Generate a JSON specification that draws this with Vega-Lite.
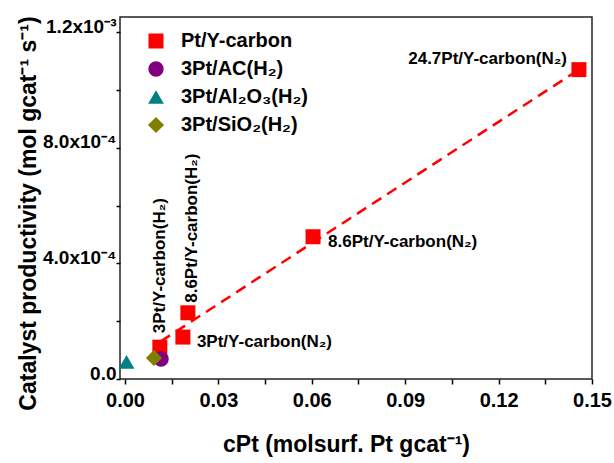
{
  "$schema": "https://vega.github.io/schema/vega-lite/v6.json",
  "width": 472,
  "height": 362,
  "autosize": {"type": "none"},
  "padding": {"left": 120, "top": 17, "right": 22, "bottom": 84},
  "background": "white",
  "config": {
    "font": "Liberation Sans",
    "view": {"stroke": "#222222", "strokeWidth": 1.5},
    "axis": {
      "grid": false,
      "domain": false,
      "tickColor": "#000000",
      "tickWidth": 1.5,
      "tickSize": 5,
      "labelColor": "#000000",
      "labelFont": "Liberation Sans",
      "labelFontWeight": "bold",
      "labelOverlap": false,
      "labelBound": false,
      "labelFlush": false,
      "titleColor": "#000000",
      "titleFont": "Liberation Sans",
      "titleFontWeight": "bold",
      "titleFontSize": 23
    },
    "legend": {
      "orient": "none",
      "legendX": 26,
      "legendY": 14,
      "padding": 0,
      "labelFont": "Liberation Sans",
      "labelFontSize": 20,
      "labelFontWeight": "bold",
      "labelColor": "#000000",
      "symbolSize": 300,
      "symbolStrokeWidth": 0,
      "rowPadding": 8,
      "labelOffset": 15
    }
  },
  "datasets": {
    "pts": [
      {"x": 0.0112, "y": 0.000110, "s": "Pt/Y-carbon", "label": "3Pt/Y-carbon(H₂)"},
      {"x": 0.0186, "y": 0.000145, "s": "Pt/Y-carbon", "label": "3Pt/Y-carbon(N₂)"},
      {"x": 0.0202, "y": 0.000229, "s": "Pt/Y-carbon", "label": "8.6Pt/Y-carbon(H₂)"},
      {"x": 0.0604, "y": 0.000492, "s": "Pt/Y-carbon", "label": "8.6Pt/Y-carbon(N₂)"},
      {"x": 0.1458, "y": 0.001070, "s": "Pt/Y-carbon", "label": "24.7Pt/Y-carbon(N₂)"},
      {"x": 0.0116, "y": 0.000069, "s": "3Pt/AC(H₂)", "label": ""},
      {"x": 0.0005, "y": 0.000059, "s": "3Pt/Al₂O₃(H₂)", "label": ""},
      {"x": 0.0093, "y": 0.000073, "s": "3Pt/SiO₂(H₂)", "label": ""}
    ],
    "fit": [
      {"x": 0.0115, "y": 0.000130},
      {"x": 0.1458, "y": 0.001070}
    ]
  },
  "encoding": {
    "x": {
      "field": "x",
      "type": "quantitative",
      "scale": {"domain": [-0.0016, 0.15], "nice": false, "zero": false},
      "axis": {
        "values": [0, 0.015, 0.03, 0.045, 0.06, 0.075, 0.09, 0.105, 0.12, 0.135, 0.15],
        "labelExpr": "round(datum.value*1000) % 30 == 0 ? format(datum.value, '.2f') : ''",
        "labelFontSize": 20,
        "labelPadding": 6,
        "title": "cPt (molsurf. Pt gcat⁻¹)",
        "titleX": 226,
        "titleY": 72,
        "titleBaseline": "alphabetic",
        "titleAlign": "center"
      }
    },
    "y": {
      "field": "y",
      "type": "quantitative",
      "scale": {"domain": [0, 0.001252], "nice": false, "zero": false},
      "axis": {
        "values": [0, 0.0002, 0.0004, 0.0006, 0.0008, 0.001, 0.0012],
        "labelExpr": "round(datum.value*100000) == 0 ? '0.0' : round(datum.value*100000) == 40 ? '4.0x10⁻⁴' : round(datum.value*100000) == 80 ? '8.0x10⁻⁴' : round(datum.value*100000) == 120 ? '1.2x10⁻³' : ''",
        "labelFontSize": 19,
        "labelBaseline": "alphabetic",
        "labelPadding": 0,
        "tickSize": 4,
        "title": "Catalyst productivity (mol gcat⁻¹ s⁻¹)",
        "titleX": -92,
        "titleY": 196,
        "titleAngle": 270,
        "titleAlign": "center",
        "titleBaseline": "middle"
      }
    }
  },
  "layer": [
    {
      "data": {"name": "fit"},
      "mark": {"type": "line", "color": "#ff0000", "strokeDash": [11, 7], "strokeWidth": 2.5}
    },
    {
      "data": {"name": "pts"},
      "mark": {"type": "point", "filled": true, "opacity": 1, "strokeWidth": 0},
      "encoding": {
        "color": {
          "field": "s",
          "type": "nominal",
          "scale": {
            "domain": ["Pt/Y-carbon", "3Pt/AC(H₂)", "3Pt/Al₂O₃(H₂)", "3Pt/SiO₂(H₂)"],
            "range": ["#ff0000", "#800080", "#008080", "#808000"]
          },
          "legend": {"title": null, "symbolSize": 300}
        },
        "shape": {
          "field": "s",
          "type": "nominal",
          "scale": {
            "domain": ["Pt/Y-carbon", "3Pt/AC(H₂)", "3Pt/Al₂O₃(H₂)", "3Pt/SiO₂(H₂)"],
            "range": ["square", "circle", "triangle-up", "diamond"]
          },
          "legend": {"title": null, "symbolSize": 300}
        },
        "size": {
          "field": "s",
          "type": "nominal",
          "scale": {
            "domain": ["Pt/Y-carbon", "3Pt/AC(H₂)", "3Pt/Al₂O₃(H₂)", "3Pt/SiO₂(H₂)"],
            "range": [225, 260, 400, 420]
          },
          "legend": null
        }
      }
    },
    {
      "data": {"name": "pts"},
      "transform": [{"filter": {"field": "label", "equal": "24.7Pt/Y-carbon(N₂)"}}],
      "mark": {"type": "text", "fontSize": 17, "fontWeight": "bold", "color": "#000000", "align": "right", "baseline": "alphabetic", "dx": -12, "dy": -6},
      "encoding": {"text": {"field": "label"}}
    },
    {
      "data": {"name": "pts"},
      "transform": [{"filter": {"field": "label", "equal": "8.6Pt/Y-carbon(N₂)"}}],
      "mark": {"type": "text", "fontSize": 17, "fontWeight": "bold", "color": "#000000", "align": "left", "baseline": "alphabetic", "dx": 15, "dy": 10},
      "encoding": {"text": {"field": "label"}}
    },
    {
      "data": {"name": "pts"},
      "transform": [{"filter": {"field": "label", "equal": "3Pt/Y-carbon(N₂)"}}],
      "mark": {"type": "text", "fontSize": 17, "fontWeight": "bold", "color": "#000000", "align": "left", "baseline": "alphabetic", "dx": 14, "dy": 10},
      "encoding": {"text": {"field": "label"}}
    },
    {
      "data": {"name": "pts"},
      "transform": [{"filter": {"field": "label", "equal": "3Pt/Y-carbon(H₂)"}}],
      "mark": {"type": "text", "fontSize": 17, "fontWeight": "bold", "color": "#000000", "align": "left", "baseline": "middle", "angle": 270, "dx": 14, "dy": 0},
      "encoding": {"text": {"field": "label"}}
    },
    {
      "data": {"name": "pts"},
      "transform": [{"filter": {"field": "label", "equal": "8.6Pt/Y-carbon(H₂)"}}],
      "mark": {"type": "text", "fontSize": 17, "fontWeight": "bold", "color": "#000000", "align": "left", "baseline": "middle", "angle": 270, "dx": 10, "dy": 4},
      "encoding": {"text": {"field": "label"}}
    }
  ]
}
